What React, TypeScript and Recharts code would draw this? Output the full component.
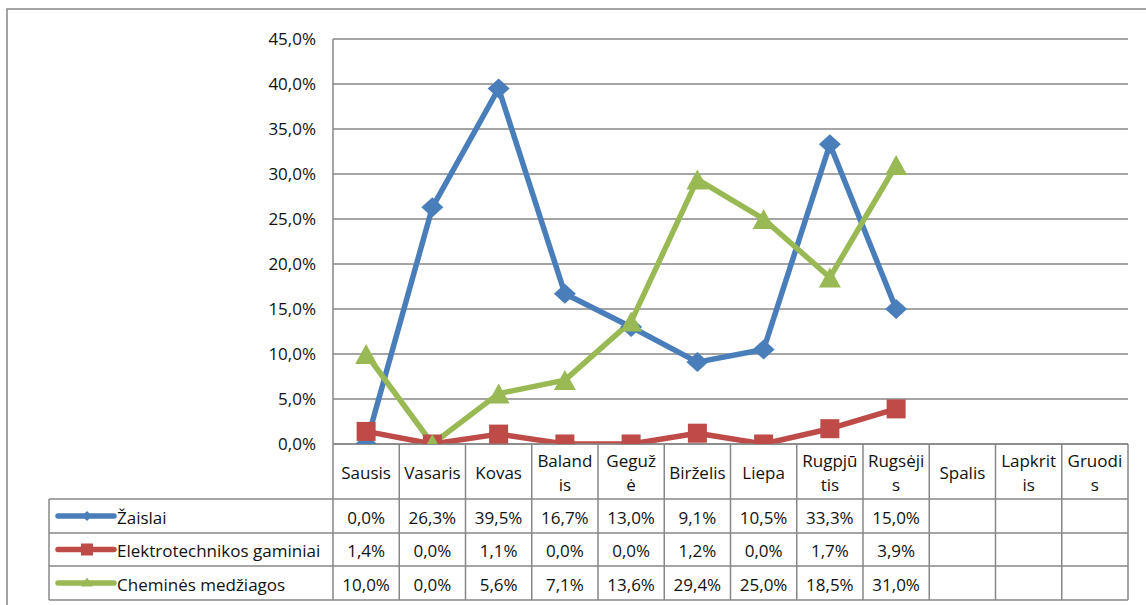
import React from 'react';
import { LineChart, Line, XAxis, YAxis, CartesianGrid } from 'recharts';

// ---------- data ----------
const months = ['Sausis', 'Vasaris', 'Kovas', 'Balandis', 'Gegužė', 'Birželis', 'Liepa', 'Rugpjūtis', 'Rugsėjis', 'Spalis', 'Lapkritis', 'Gruodis'];
const monthHeaderLines = [['Sausis'], ['Vasaris'], ['Kovas'], ['Baland', 'is'], ['Geguž', 'ė'], ['Birželis'], ['Liepa'], ['Rugpjū', 'tis'], ['Rugsėji', 's'], ['Spalis'], ['Lapkrit', 'is'], ['Gruodi', 's']];
const zaislai = [0.0, 26.3, 39.5, 16.7, 13.0, 9.1, 10.5, 33.3, 15.0, null, null, null];
const elektrotechnika = [1.4, 0.0, 1.1, 0.0, 0.0, 1.2, 0.0, 1.7, 3.9, null, null, null];
const chemines = [10.0, 0.0, 5.6, 7.1, 13.6, 29.4, 25.0, 18.5, 31.0, null, null, null];
const seriesNames = ['Žaislai', 'Elektrotechnikos gaminiai', 'Cheminės medžiagos'];
const seriesKeys = ['zaislai', 'elektro', 'chem'];
const seriesColors = ['#4A7EBB', '#BE4B48', '#98B954'];
const seriesValues = [zaislai, elektrotechnika, chemines];
const yTicks = [0, 5, 10, 15, 20, 25, 30, 35, 40, 45];

const data = months.map((m, i) => ({ month: m, zaislai: zaislai[i], elektro: elektrotechnika[i], chem: chemines[i] }));

// ---------- layout ----------
const W = 1146;
const H = 605;
const PLOT_L = 333;
const PLOT_R = 1128;
const PLOT_T = 39;
const PLOT_B = 444;
const COLW = (PLOT_R - PLOT_L) / months.length;
const HEADER_B = 499;
const ROW_LINES = [499, 533, 566, 600];
const TABLE_L = 49;
const FONT = "'Open Sans', sans-serif";
const FS = 17;
const GRID = '#878787';
const TXT = '#111111';
const LW = 5.5;

const fmt = (v: number) => v.toFixed(1).replace('.', ',') + '%';

function Diamond({ cx, cy, rx, ry, fill }: any) {
  return <path d={`M${cx},${cy - ry} L${cx + rx},${cy} L${cx},${cy + ry} L${cx - rx},${cy} Z`} fill={fill} />;
}
function Square({ cx, cy, s, fill }: any) {
  return <rect x={cx - s / 2} y={cy - s / 2} width={s} height={s} fill={fill} />;
}
function Triangle({ cx, cy, w, h, fill }: any) {
  return <path d={`M${cx},${cy - h / 2} L${cx + w / 2},${cy + h / 2} L${cx - w / 2},${cy + h / 2} Z`} fill={fill} />;
}

const makeDot = (kind: number) => (props: any) => {
  const { cx, cy, index, value } = props;
  const key = `d${kind}-${index}`;
  if (cx == null || cy == null || value == null) return <g key={key} />;
  const fill = seriesColors[kind];
  if (kind === 0) return <g key={key}><Diamond cx={cx} cy={cy} rx={11} ry={10} fill={fill} /></g>;
  if (kind === 1) return <g key={key}><Square cx={cx} cy={cy} s={19} fill={fill} /></g>;
  return <g key={key}><Triangle cx={cx} cy={cy} w={22} h={20} fill={fill} /></g>;
};

function ColumnTick(props: any) {
  const { x, payload } = props;
  const i = payload?.index ?? props.index ?? 0;
  const left = x - COLW / 2;
  const right = x + COLW / 2;
  const lines = monthHeaderLines[i] || [months[i]];
  const headerMid = (PLOT_B + HEADER_B) / 2 + 1;
  return (
    <g>
      {i === 0 && <line x1={left} y1={PLOT_B} x2={left} y2={ROW_LINES[3]} stroke={GRID} strokeWidth={1.5} />}
      <line x1={right} y1={PLOT_B} x2={right} y2={ROW_LINES[3]} stroke={GRID} strokeWidth={1.5} />
      {lines.map((ln, k) => (
        <text key={k} x={x} y={headerMid + (k - (lines.length - 1) / 2) * 24} textAnchor="middle" dominantBaseline="central"
          fontFamily={FONT} fontSize={FS} fill={TXT}>{ln}</text>
      ))}
      {seriesValues.map((vals, r) => {
        const v = vals[i];
        if (v == null) return null;
        const cy = (ROW_LINES[r] + ROW_LINES[r + 1]) / 2 + 1;
        return (
          <text key={`v${r}`} x={x} y={cy} textAnchor="middle" dominantBaseline="central" fontFamily={FONT} fontSize={FS} fill={TXT}>{fmt(v)}</text>
        );
      })}
    </g>
  );
}

function Overlay() {
  const legendLineX1 = 58;
  const legendLineX2 = 114;
  const legendMarkX = 87;
  return (
    <svg width={W} height={H} style={{ position: 'absolute', left: 0, top: 0, pointerEvents: 'none' }}>
      <rect x={7} y={9} width={W + 20} height={H + 20} fill="none" stroke={GRID} strokeWidth={1.5} />
      {ROW_LINES.map((y, k) => (
        <line key={k} x1={TABLE_L} y1={y} x2={PLOT_R} y2={y} stroke={GRID} strokeWidth={1.5} />
      ))}
      <line x1={TABLE_L} y1={ROW_LINES[0]} x2={TABLE_L} y2={ROW_LINES[3]} stroke={GRID} strokeWidth={1.5} />
      {seriesNames.map((name, r) => {
        const cy = (ROW_LINES[r] + ROW_LINES[r + 1]) / 2;
        const c = seriesColors[r];
        return (
          <g key={name}>
            <line x1={legendLineX1} y1={cy} x2={legendLineX2} y2={cy} stroke={c} strokeWidth={LW} strokeLinecap="round" />
            {r === 0 && <Diamond cx={legendMarkX} cy={cy} rx={5} ry={5} fill={c} />}
            {r === 1 && <Square cx={legendMarkX} cy={cy} s={12} fill={c} />}
            {r === 2 && <Triangle cx={legendMarkX} cy={cy - 1} w={12} h={9} fill={c} />}
            <text x={117} y={cy + 1} dominantBaseline="central" fontFamily={FONT} fontSize={FS} fill={TXT}>{name}</text>
          </g>
        );
      })}
    </svg>
  );
}

export default function App() {
  return (
    <div style={{ position: 'absolute', left: 0, top: 0, width: W, height: H, background: '#fff' }}>
      <LineChart width={W} height={H} data={data}
        margin={{ top: PLOT_T, right: W - PLOT_R, bottom: H - PLOT_B - (HEADER_B - PLOT_B), left: PLOT_L - 60 }}>
        <CartesianGrid vertical={false} stroke={GRID} strokeWidth={1.5} strokeDasharray="" />
        <XAxis dataKey="month" interval={0} height={HEADER_B - PLOT_B} tickLine={false}
          axisLine={{ stroke: GRID, strokeWidth: 1.5 }} padding={{ left: COLW / 2, right: COLW / 2 }}
          tick={<ColumnTick />} />
        <YAxis width={60} domain={[0, 45]} ticks={yTicks} tickFormatter={fmt} tickLine={false} interval={0}
          axisLine={{ stroke: GRID, strokeWidth: 1.5 }} tickMargin={11}
          tick={{ fontFamily: FONT, fontSize: FS, fill: TXT }} allowDataOverflow />
        {seriesKeys.map((k, s) => (
          <Line key={k} dataKey={k} name={seriesNames[s]} stroke={seriesColors[s]} strokeWidth={LW}
            strokeLinejoin="round" dot={makeDot(s)} activeDot={false} isAnimationActive={false} connectNulls={false} />
        ))}
      </LineChart>
      <Overlay />
    </div>
  );
}
